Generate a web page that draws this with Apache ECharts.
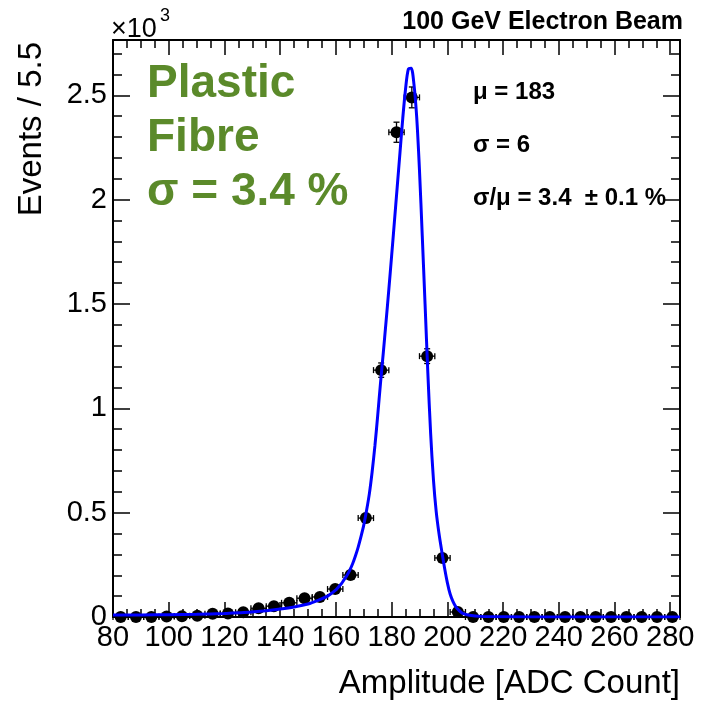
<!DOCTYPE html>
<html><head><meta charset="utf-8">
<script src="https://cdn.jsdelivr.net/npm/echarts@6/dist/echarts.min.js"></script>
<style>html,body{margin:0;padding:0;background:#fff}#c{width:706px;height:701px}</style>
</head><body><div id="c"></div>
<script>
// ---- data ----
const binWidth = 5.5;
const binCenters = [82.75, 88.25, 93.75, 99.25, 104.75, 110.25, 115.75, 121.25, 126.75, 132.25,
  137.75, 143.25, 148.75, 154.25, 159.75, 165.25, 170.75, 176.25, 181.75, 187.25,
  192.75, 198.25, 203.75, 209.25, 214.75, 220.25, 225.75, 231.25, 236.75, 242.25,
  247.75, 253.25, 258.75, 264.25, 269.75, 275.25, 280.75];
const counts = [0, 0, 0, 2, 4, 6, 16, 17, 23, 42,
  52, 68, 90, 96, 134, 201, 474, 1183, 2323, 2490,
  1250, 283, 24, 0, 0, 0, 0, 0, 0, 0,
  0, 0, 0, 0, 0, 0, 0];
// fitted curve
const fitX = [80, 90, 100, 110, 120, 127, 135, 140, 145, 150, 154, 157,
  160, 161, 162, 163, 164, 165, 166, 167, 168, 169, 170, 171, 172, 173, 174, 175, 176, 177, 178, 179,
  180, 181, 182, 183, 184, 185, 186, 187, 188, 189, 190, 191, 192, 193, 194, 195, 196, 197, 198, 199,
  200, 201, 202, 203, 204, 205, 206, 208, 212, 220, 240, 260, 283.5];
const fitY = [9, 10, 11, 13, 17, 21, 30, 38, 48, 62, 82, 100,
  130, 145, 160, 180, 200, 225, 255, 292, 335, 385, 440, 510, 590, 695, 820, 965, 1120, 1265, 1415, 1570,
  1730, 1895, 2060, 2225, 2390, 2530, 2625, 2630, 2555, 2395, 2140, 1825, 1500, 1170, 880, 660, 505, 400, 315, 235,
  165, 110, 75, 50, 34, 22, 15, 8, 3, 1, 0, 0, 0];
const xTickLabels = ['80', '100', '120', '140', '160', '180', '200', '220', '240', '260', '280'];
const yTickLabels = ['0', '0.5', '1', '1.5', '2', '2.5'];
const statLines = ['\u03bc = 183', '\u03c3 = 6', '\u03c3/\u03bc = 3.4  \u00b1 0.1 %'];
const greenLines = ['Plastic', 'Fibre', '\u03c3 = 3.4 %'];

// ---- chart ----
const FONT = "'Liberation Sans', Arial, Helvetica, sans-serif";
const chart = echarts.init(document.getElementById('c'), null, {renderer: 'canvas'});
const axisLineStyle = {color: '#000', width: 2};

function xAxisCfg(pos, labels) {
  return {
    type: 'value', position: pos, min: 80, max: 283.5, interval: 20,
    axisLine: {show: true, onZero: false, lineStyle: axisLineStyle},
    axisTick: {show: true, inside: true, length: 15, lineStyle: {color: '#000', width: 1.5}},
    minorTick: {show: true, splitNumber: 4, length: 8, lineStyle: {color: '#000', width: 1.5}},
    splitLine: {show: false}, minorSplitLine: {show: false},
    axisLabel: {
      show: labels, color: '#000', fontSize: 29, fontFamily: FONT, margin: 6,
      formatter: v => { const i = Math.round((v - 80) / 20); return (Math.abs(v - 80 - 20 * i) < 1e-6 && i >= 0 && i < xTickLabels.length) ? xTickLabels[i] : ''; }
    }
  };
}
function yAxisCfg(pos, labels) {
  return {
    type: 'value', position: pos, min: 0, max: 2765, interval: 500,
    axisLine: {show: true, onZero: false, lineStyle: axisLineStyle},
    axisTick: {show: true, inside: true, length: 17, lineStyle: {color: '#000', width: 1.5}},
    minorTick: {show: true, splitNumber: 5, length: 9, lineStyle: {color: '#000', width: 1.5}},
    splitLine: {show: false}, minorSplitLine: {show: false},
    axisLabel: {
      show: labels, color: '#000', fontSize: 29, fontFamily: FONT, margin: 6,
      formatter: v => { const i = Math.round(v / 500); return (Math.abs(v - 500 * i) < 1e-6 && i < yTickLabels.length) ? yTickLabels[i] : ''; }
    }
  };
}

function renderErr(params, api) {
  const x = api.value(0), y = api.value(1);
  const e = Math.sqrt(y);
  const l = api.coord([x - binWidth / 2, y]);
  const r = api.coord([x + binWidth / 2, y]);
  const st = {stroke: '#000', lineWidth: 1.3};
  const c = 3;
  const ch = [
    {type: 'line', shape: {x1: l[0], y1: l[1], x2: r[0], y2: r[1]}, style: st},
    {type: 'line', shape: {x1: l[0], y1: l[1] - c, x2: l[0], y2: l[1] + c}, style: st},
    {type: 'line', shape: {x1: r[0], y1: r[1] - c, x2: r[0], y2: r[1] + c}, style: st}
  ];
  if (e > 0) {
    const t = api.coord([x, y + e]);
    const b = api.coord([x, y - e]);
    ch.push({type: 'line', shape: {x1: t[0], y1: t[1], x2: b[0], y2: b[1]}, style: st});
    ch.push({type: 'line', shape: {x1: t[0] - c, y1: t[1], x2: t[0] + c, y2: t[1]}, style: st});
    ch.push({type: 'line', shape: {x1: b[0] - c, y1: b[1], x2: b[0] + c, y2: b[1]}, style: st});
  }
  return {type: 'group', children: ch};
}

const pts = binCenters.map((x, i) => [x, counts[i]]);
const fit = fitX.map((x, i) => [x, fitY[i]]);

const graphics = [
  {type: 'text', x: 111, y: 30, style: {text: '\u00d710', font: '27px ' + FONT, fill: '#000', textAlign: 'left', textVerticalAlign: 'middle'}},
  {type: 'text', x: 160, y: 16, style: {text: '3', font: '18px ' + FONT, fill: '#000', textAlign: 'left', textVerticalAlign: 'middle'}},
  {type: 'text', x: 683, y: 22, style: {text: '100 GeV Electron Beam', font: 'bold 25px ' + FONT, fill: '#000', textAlign: 'right', textVerticalAlign: 'middle'}},
  {type: 'text', x: 680, y: 684, style: {text: 'Amplitude [ADC Count]', font: '33px ' + FONT, fill: '#000', textAlign: 'right', textVerticalAlign: 'middle'}},
  {type: 'text', x: 32, y: 42, rotation: Math.PI / 2, style: {text: 'Events / 5.5', font: '33px ' + FONT, fill: '#000', textAlign: 'right', textVerticalAlign: 'middle'}}
];
greenLines.forEach((t, i) => graphics.push({type: 'text', x: 147, y: 84 + i * 54, style: {text: t, font: 'bold 46px ' + FONT, fill: '#5b8a2a', textAlign: 'left', textVerticalAlign: 'middle'}}));
statLines.forEach((t, i) => graphics.push({type: 'text', x: 473, y: 92 + i * 53, style: {text: t, font: 'bold 24px ' + FONT, fill: '#000', textAlign: 'left', textVerticalAlign: 'middle'}}));

chart.setOption({
  animation: false,
  backgroundColor: '#fff',
  textStyle: {fontFamily: FONT},
  grid: {left: 113, right: 26, top: 40, bottom: 84, containLabel: false, outerBoundsMode: 'none'},
  xAxis: [xAxisCfg('bottom', true), xAxisCfg('top', false)],
  yAxis: [yAxisCfg('left', true), yAxisCfg('right', false)],
  series: [
    {type: 'custom', renderItem: renderErr, data: pts, xAxisIndex: 0, yAxisIndex: 0, clip: false, z: 2, silent: true},
    {type: 'scatter', data: pts, symbol: 'circle', symbolSize: 12, itemStyle: {color: '#000', opacity: 1}, clip: false, z: 3, silent: true},
    {type: 'line', data: fit, showSymbol: false, smooth: 0.3, lineStyle: {color: '#0000ff', width: 3}, z: 4, silent: true}
  ],
  graphic: graphics
});
</script>
</body></html>
